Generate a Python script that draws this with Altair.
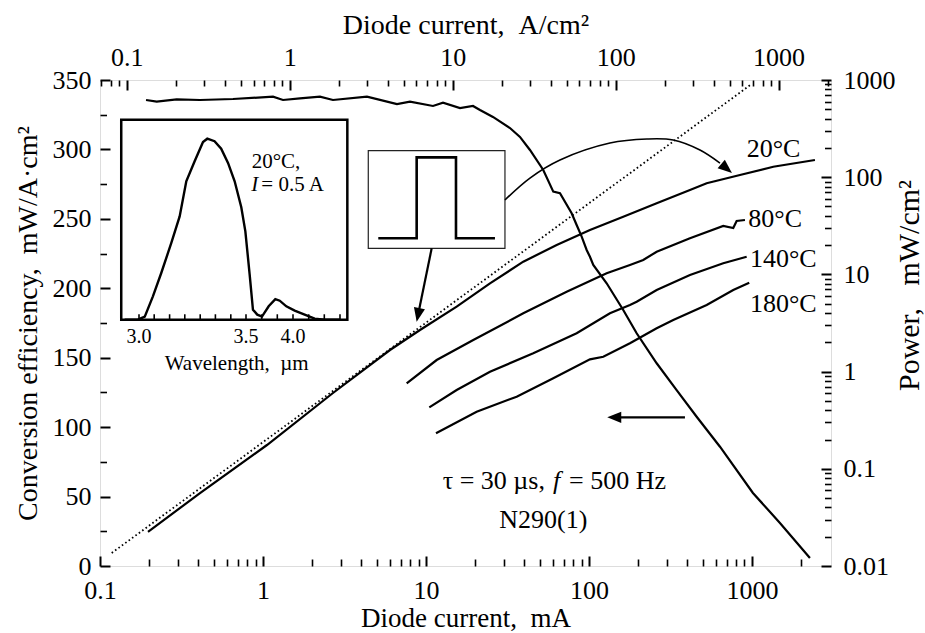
import altair as alt
import pandas as pd

FONT = "Liberation Serif"
W, H = 731, 486

# ---------------- data ----------------
# Conversion efficiency (mW/A·cm²) vs diode current (mA)
EFF_I = [0.1916, 0.2228, 0.2955, 0.4107, 0.6546, 1.152, 1.327, 1.687, 2.237, 2.688,
         4.345, 6.640, 7.977, 11.04, 12.72, 16.17, 19.43, 21.45, 25.76, 32.76,
         37.73, 43.45, 52.44, 60.40, 66.40, 78.31, 84.04, 90.21, 96.81, 101.4,
         106.3, 128.4, 162.3, 196.2, 260.3, 345.1, 457.9, 636.5, 1014, 1485, 2268]
EFF_V = [335.6, 334.4, 336.1, 335.6, 336.3, 338.0, 335.6, 336.8, 338.0, 335.6,
         338.0, 332.7, 334.4, 331.3, 333.7, 329.8, 331.3, 328.4, 323.4, 315.4,
         309.0, 299.6, 285.2, 269.6, 268.4, 254.0, 245.6, 237.2, 227.6, 222.7,
         216.8, 203.6, 184.4, 167.6, 146.0, 126.7, 107.5, 85.9, 52.6, 31.0, 5.8]

# Power (mW/cm²) vs diode current (mA)
P20_I = [0.197, 0.4107, 1.058, 2.688, 6.014, 9.188, 15.43, 24.70, 39.54, 63.37,
         101.4, 162.3, 260.3, 416.5, 527.5, 844.1, 1351, 2435]
P20_V = [0.02238, 0.05636, 0.1757, 0.6022, 1.668, 2.679, 4.653, 8.099, 13.51, 20.06,
         28.63, 39.24, 53.88, 73.84, 86.53, 105.3, 128.2, 150.3]
P80_I = [7.613, 11.63, 19.51, 39.54, 72.98, 128.4, 178.4, 215.3, 260.3, 416.5,
         666.6, 767.9, 805.6, 906.0]
P80_V = [0.7578, 1.316, 2.114, 3.979, 6.637, 10.26, 12.49, 14.07, 17.12, 23.52,
         31.47, 30.02, 35.43, 36.28]
P140_I = [10.48, 15.43, 24.70, 45.53, 84.04, 134.5, 178.4, 196.2, 260.3, 416.5, 666.6, 928.0]
P140_V = [0.4292, 0.6467, 0.9977, 1.543, 2.478, 3.979, 4.844, 5.238, 6.911, 9.858, 13.01, 15.21]
P180_I = [11.52, 20.46, 36.01, 60.40, 101.4, 122.4, 178.4, 260.3, 329.0, 527.5, 767.9, 962.5]
P180_V = [0.2318, 0.3867, 0.5519, 0.8534, 1.338, 1.423, 1.955, 2.790, 3.395, 4.844, 6.911, 8.215]
SERIES = ["20°C", "80°C", "140°C", "180°C"]

# dotted linear extrapolation (power)
DOT_I = [0.118, 995.8]
DOT_V = [0.0136, 909.6]

# inset spectrum: wavelength (µm) vs relative intensity
SPEC_WL = [2.933, 2.995, 3.027, 3.065, 3.104, 3.151, 3.190, 3.221, 3.260, 3.299,
           3.319, 3.353, 3.384, 3.416, 3.447, 3.478, 3.497, 3.539, 3.574, 3.620,
           3.670, 3.741, 3.812, 3.859, 3.929, 4.018, 4.124, 4.231, 4.337, 4.497]
SPEC_I = [0, 0, 0.017, 0.129, 0.258, 0.424, 0.571, 0.765, 0.875, 0.982,
          1.0, 0.986, 0.945, 0.866, 0.765, 0.621, 0.488, 0.249, 0.055, 0.028,
          0.017, 0.074, 0.114, 0.105, 0.074, 0.050, 0.028, 0.006, 0, 0]
INSET_TICKS = [3.0, 3.071, 3.143, 3.214, 3.286, 3.357, 3.429, 3.5,
               3.667, 3.833, 4.0, 4.167, 4.333, 4.5]
INSET_LABELS = ["3.0", "3.5", "4.0"]
INSET_LABEL_POS = [3.0, 3.5, 4.0]
INSET_BOX = [2.917, 4.578, 0.0, 1.105]

# axis ticks
X_MAJOR = [0.1, 1, 10, 100, 1000]
X_MINOR = [0.2, 0.3, 0.4, 0.5, 0.6, 0.7, 0.8, 0.9, 2, 3, 4, 5, 6, 7, 8, 9,
           20, 30, 40, 50, 60, 70, 80, 90, 200, 300, 400, 500, 600, 700, 800, 900, 2000]
TOP_MAJOR = [0.1, 1, 10, 100, 1000]
TOP_MINOR = [0.07, 0.08, 0.09, 0.2, 0.3, 0.4, 0.5, 0.6, 0.7, 0.8, 0.9, 2, 3, 4, 5, 6, 7, 8, 9,
             20, 30, 40, 50, 60, 70, 80, 90, 200, 300, 400, 500, 600, 700, 800, 900, 2000]
LEFT_MAJOR = [0, 50, 100, 150, 200, 250, 300, 350]
LEFT_MINOR = [25, 75, 125, 175, 225, 275, 325]
RIGHT_MAJOR = [0.01, 0.1, 1, 10, 100, 1000]
RIGHT_MINOR = [0.02, 0.03, 0.04, 0.05, 0.06, 0.07, 0.08, 0.09,
               0.2, 0.3, 0.4, 0.5, 0.6, 0.7, 0.8, 0.9,
               2, 3, 4, 5, 6, 7, 8, 9, 20, 30, 40, 50, 60, 70, 80, 90,
               200, 300, 400, 500, 600, 700, 800, 900]

# annotations (diode current mA, efficiency units)
PULSE_BOX = [4.426, 30.52, 228.8, 299.1]
PULSE_I = [5.098, 8.768, 8.768, 15.28, 15.28, 26.50]
PULSE_E = [236.0, 236.0, 294.3, 294.3, 236.0, 236.0]
CURVE_I = [30.52, 43.45, 66.40, 134.5, 226.8, 329.0, 479.7, 636.5]
CURVE_E = [263.6, 279.4, 292.4, 304.6, 307.5, 306.8, 299.6, 290.2]
DOWN_I = [10.84, 8.97]
DOWN_E = [228.8, 181.6]
LEFTA_I = [388.1, 145.0]
LEFTA_E = [107.1, 107.1]
HEAD_I = [753.9, 8.768, 129.5]
HEAD_E = [283.0, 175.9, 107.1]
HEAD_ANG = [40, 101.5, 180]

LABEL_TXT = SERIES
LABEL_I = [928.0, 949.1, 972.0, 972.0]
LABEL_E = [294.8, 244.4, 215.5, 183.1]

# ---------------- scales ----------------
xs = alt.Scale(type="log", domain=[0.1, 3055], nice=False)
ye = alt.Scale(domain=[0, 350], nice=False, zero=False)
yp = alt.Scale(type="log", domain=[0.01, 1000], nice=False)
xa = alt.Scale(type="log", domain=[0.0686, 2096], nice=False)
xi = alt.Scale(domain=[3.0, 3.5, 4.0], range=[39, 146, 193], nice=False, zero=False)
yi = alt.Scale(domain=[0, 1], range=[239.7, 58.7], nice=False, zero=False)

common = dict(domain=False, grid=False, labelFlush=False, labelOverlap=False,
              tickColor="black", labelColor="black", titleColor="black",
              labelFont=FONT, titleFont=FONT, titleFontWeight="normal")

AX_BOTTOM = alt.Axis(orient="bottom", values=X_MAJOR, format="~g", tickSize=10, offset=-10,
                     tickWidth=2, labelPadding=11, labelFontSize=26,
                     title="Diode current,\u2002mA", titleFontSize=27, titlePadding=2, **common)
AX_BOTTOM_MINOR = alt.Axis(orient="bottom", values=X_MINOR, tickSize=7, offset=-7, tickWidth=1.6,
                           labels=False, title=None, **common)
AX_TOP = alt.Axis(orient="top", values=TOP_MAJOR, format="~g", tickSize=10, offset=-10,
                  tickWidth=2, labelPadding=9.5, labelFontSize=26,
                  title="Diode current,\u2002A/cm²", titleFontSize=28, titlePadding=5, **common)
AX_TOP_MINOR = alt.Axis(orient="top", values=TOP_MINOR, tickSize=6, offset=-6, tickWidth=1.6,
                        labels=False, title=None, **common)
AX_LEFT = alt.Axis(orient="left", values=LEFT_MAJOR, format="d", tickSize=10, offset=-10,
                   tickWidth=2, labelPadding=9, labelFontSize=26,
                   title="Conversion efficiency,\u2002mW/A·cm²", titleFontSize=28, titlePadding=10,
                   **common)
AX_LEFT_MINOR = alt.Axis(orient="left", values=LEFT_MINOR, tickSize=6.5, offset=-6.5, tickWidth=1.6,
                         labels=False, title=None, **common)
AX_RIGHT = alt.Axis(orient="right", values=RIGHT_MAJOR, format="~g", tickSize=10, offset=-10,
                    tickWidth=2, labelPadding=12, labelFontSize=26,
                    title="Power,\u00a0\u00a0\u00a0mW/cm²", titleFontSize=30, titleAngle=270,
                    titleBaseline="alphabetic", titleAlign="center", titleX=97, titleY=205,
                    **common)
AX_RIGHT_MINOR = alt.Axis(orient="right", values=RIGHT_MINOR, tickSize=6.5, offset=-6.5, tickWidth=1.6,
                          labels=False, title=None, **common)

LINE = dict(color="black", strokeWidth=2.2)
layers = []

# inset box and pulse box (white filled, drawn first)
inset_box = pd.DataFrame({"x0": [INSET_BOX[0]], "x1": [INSET_BOX[1]],
                          "y0": [INSET_BOX[2]], "y1": [INSET_BOX[3]]})
layers.append(alt.Chart(inset_box).mark_rect(fill="white", stroke="black", strokeWidth=2.5).encode(
    x=alt.X("x0:Q", scale=xi, axis=None), x2="x1:Q",
    y=alt.Y("y0:Q", scale=yi, axis=None), y2="y1:Q"))

pulse_box = pd.DataFrame({"x0": [PULSE_BOX[0]], "x1": [PULSE_BOX[1]],
                          "y0": [PULSE_BOX[2]], "y1": [PULSE_BOX[3]]})
layers.append(alt.Chart(pulse_box).mark_rect(fill="white", stroke="#222", strokeWidth=1.2).encode(
    x=alt.X("x0:Q", scale=xs, axis=None), x2="x1:Q",
    y=alt.Y("y0:Q", scale=ye, axis=None), y2="y1:Q"))

# efficiency curve (left axis)
eff_df = pd.DataFrame({"x": EFF_I, "y": EFF_V})
layers.append(alt.Chart(eff_df).mark_line(**LINE).encode(
    x=alt.X("x:Q", scale=xs, axis=AX_BOTTOM),
    y=alt.Y("y:Q", scale=ye, axis=AX_LEFT)))

# power curves (right axis)
rows = []
for name, xi_, yv in zip(SERIES, [P20_I, P80_I, P140_I, P180_I], [P20_V, P80_V, P140_V, P180_V]):
    for a, b in zip(xi_, yv):
        rows.append({"x": a, "y": b, "s": name})
pow_df = pd.DataFrame(rows)
layers.append(alt.Chart(pow_df).mark_line(**LINE).encode(
    x=alt.X("x:Q", scale=xs, axis=AX_BOTTOM_MINOR),
    y=alt.Y("y:Q", scale=yp, axis=AX_RIGHT),
    detail="s:N"))

# dotted extrapolation
dot_df = pd.DataFrame({"x": DOT_I, "y": DOT_V})
layers.append(alt.Chart(dot_df).mark_line(color="black", strokeWidth=1.8, strokeDash=[1.6, 2.6]).encode(
    x=alt.X("x:Q", scale=xs, axis=None),
    y=alt.Y("y:Q", scale=yp, axis=AX_RIGHT_MINOR)))

# top axis carriers
top_df = pd.DataFrame({"x": [0.0686, 2096]})
layers.append(alt.Chart(top_df).mark_point(opacity=0).encode(
    x=alt.X("x:Q", scale=xa, axis=AX_TOP)))
layers.append(alt.Chart(top_df).mark_point(opacity=0).encode(
    x=alt.X("x:Q", scale=xa, axis=AX_TOP_MINOR)))

# pulse shape
pulse_df = pd.DataFrame({"x": PULSE_I, "y": PULSE_E, "o": list(range(len(PULSE_I)))})
layers.append(alt.Chart(pulse_df).mark_line(color="black", strokeWidth=2.6, strokeJoin="miter").encode(
    x=alt.X("x:Q", scale=xs, axis=None),
    y=alt.Y("y:Q", scale=ye, axis=None),
    order="o:Q"))

# curved arrow
curve_df = pd.DataFrame({"x": CURVE_I, "y": CURVE_E})
layers.append(alt.Chart(curve_df).mark_line(color="black", strokeWidth=1.6, interpolate="catmull-rom").encode(
    x=alt.X("x:Q", scale=xs, axis=None),
    y=alt.Y("y:Q", scale=ye, axis=AX_LEFT_MINOR)))

# straight arrows
for ax_, ay_ in [(DOWN_I, DOWN_E), (LEFTA_I, LEFTA_E)]:
    d = pd.DataFrame({"x": ax_, "y": ay_, "o": [0, 1]})
    layers.append(alt.Chart(d).mark_line(color="black", strokeWidth=2.2).encode(
        x=alt.X("x:Q", scale=xs, axis=None),
        y=alt.Y("y:Q", scale=ye, axis=None),
        order="o:Q"))

# arrow heads
head_df = pd.DataFrame({"x": HEAD_I, "y": HEAD_E, "a": HEAD_ANG})
layers.append(alt.Chart(head_df).mark_point(
    shape="M0,0L-2,-0.8L-2,0.8Z", filled=True, size=196, color="black", opacity=1, strokeWidth=0).encode(
    x=alt.X("x:Q", scale=xs, axis=None),
    y=alt.Y("y:Q", scale=ye, axis=None),
    angle=alt.Angle("a:Q", scale=None)))

# curve labels
lab_df = pd.DataFrame({"x": LABEL_I, "y": LABEL_E, "t": LABEL_TXT})
layers.append(alt.Chart(lab_df).mark_text(font=FONT, fontSize=26, align="left", baseline="alphabetic",
                                          color="black").encode(
    x=alt.X("x:Q", scale=xs, axis=None), y=alt.Y("y:Q", scale=ye, axis=None), text="t:N"))


def txt(x, y, t, scale_x, scale_y, size=26, align="left", style="normal"):
    d = pd.DataFrame({"x": [x], "y": [y], "t": [t]})
    return alt.Chart(d).mark_text(font=FONT, fontSize=size, align=align, baseline="alphabetic",
                                  fontStyle=style, color="black").encode(
        x=alt.X("x:Q", scale=scale_x, axis=None), y=alt.Y("y:Q", scale=scale_y, axis=None), text="t:N")


layers.append(txt(53.71, 55.45, "τ = 30 µs,", xs, ye, align="right"))
layers.append(txt(60.14, 55.45, "f", xs, ye, style="italic"))
layers.append(txt(75.39, 55.45, "= 500 Hz", xs, ye))
layers.append(txt(52.44, 27.15, "N290(1)", xs, ye, align="center"))

# inset spectrum
spec_df = pd.DataFrame({"x": SPEC_WL, "y": SPEC_I})
layers.append(alt.Chart(spec_df).mark_line(color="black", strokeWidth=2.4).encode(
    x=alt.X("x:Q", scale=xi, axis=None), y=alt.Y("y:Q", scale=yi, axis=None)))

tick_df = pd.DataFrame({"x": INSET_TICKS, "y0": [0] * len(INSET_TICKS), "y1": [0.03] * len(INSET_TICKS)})
layers.append(alt.Chart(tick_df).mark_rule(color="black", strokeWidth=1.6).encode(
    x=alt.X("x:Q", scale=xi, axis=None), y=alt.Y("y0:Q", scale=yi, axis=None), y2="y1:Q"))

itl_df = pd.DataFrame({"x": INSET_LABEL_POS, "y": [-0.129] * 3, "t": INSET_LABELS})
layers.append(alt.Chart(itl_df).mark_text(font=FONT, fontSize=20, align="center", baseline="alphabetic",
                                          color="black").encode(
    x=alt.X("x:Q", scale=xi, axis=None), y=alt.Y("y:Q", scale=yi, axis=None), text="t:N"))
layers.append(txt(3.4565, -0.278, "Wavelength,\u2002µm", xi, yi, size=21, align="center"))
layers.append(txt(3.5606, 0.838, "20°C,", xi, yi, size=21))
layers.append(txt(3.556, 0.713, "I", xi, yi, size=21, style="italic"))
layers.append(txt(3.663, 0.713, "= 0.5 A", xi, yi, size=21))

chart = alt.layer(*layers).resolve_scale(x="independent", y="independent").properties(
    width=W, height=H,
    padding={"left": 100, "top": 80, "right": 94, "bottom": 67},
    autosize=alt.AutoSizeParams(type="none"),
).configure_view(stroke="black", strokeWidth=3).configure(background="white")

chart.save("out.html", embed_options={"renderer": "svg", "actions": False})
